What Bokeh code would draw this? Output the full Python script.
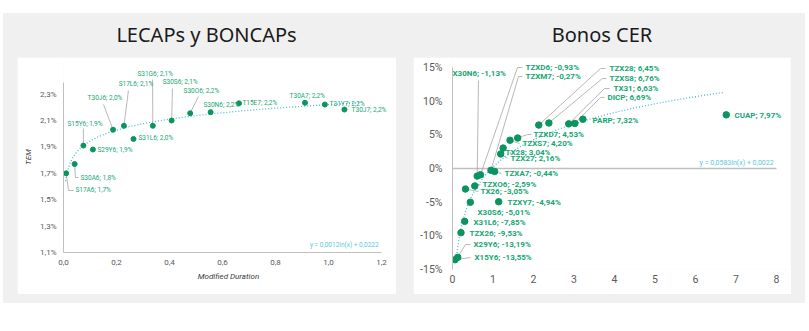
import numpy as np
from bokeh.plotting import figure
from bokeh.models import ColumnDataSource, FixedTicker, Div, Range1d
from bokeh.layouts import column, row
from bokeh.core.properties import value
from bokeh.embed import file_html
from bokeh.resources import INLINE

# ---------------- DATA: LECAPs y BONCAPs ----------------
lecap_names = ["S17A6", "S30A6", "S15Y6", "S29Y6", "T30J6", "S17L6", "S31L6", "S31G6",
               "S30S6", "S30O6", "S30N6", "T15E7", "T30A7", "T31Y7", "T30J7"]
lecap_duration = [0.010, 0.042, 0.075, 0.111, 0.187, 0.228, 0.264, 0.337,
                  0.408, 0.478, 0.555, 0.662, 0.911, 0.986, 1.060]
lecap_tem = [1.70, 1.77, 1.91, 1.88, 2.03, 2.06, 1.96, 2.06,
             2.10, 2.155, 2.163, 2.23, 2.234, 2.221, 2.183]
lecap_tem_text = ["1,7%", "1,8%", "1,9%", "1,9%", "2,0%", "2,1%", "2,0%", "2,1%",
                  "2,1%", "2,2%", "2,2%", "2,2%", "2,2%", "2,2%", "2,2%"]
lecap_x_ticks = [0.0, 0.2, 0.4, 0.6, 0.8, 1.0, 1.2]
lecap_x_tick_labels = ["0,0", "0,2", "0,4", "0,6", "0,8", "1,0", "1,2"]
lecap_y_ticks = [1.1, 1.3, 1.5, 1.7, 1.9, 2.1, 2.3]
lecap_y_tick_labels = ["1,1%", "1,3%", "1,5%", "1,7%", "1,9%", "2,1%", "2,3%"]
lecap_fit_a, lecap_fit_b = 0.0012, 0.0222
lecap_fit_text = "y = 0,0012ln(x) + 0,0222"
lecap_fit_x_span = (0.008, 1.12)

# ---------------- DATA: Bonos CER ----------------
cer_names = ["X15Y6", "X29Y6", "TZX26", "X31L6", "TX26", "X30S6", "TZXO6", "X30N6",
             "TZXD6", "TZXM7", "TZXA7", "TZXY7", "TZX27", "TX28", "TZXS7", "TZXD7",
             "TZX28", "TZXS8", "TX31", "DICP", "PARP", "CUAP"]
cer_duration = [0.06, 0.13, 0.21, 0.30, 0.32, 0.44, 0.55, 0.61,
                0.69, 0.95, 1.04, 1.14, 1.19, 1.25, 1.42, 1.61,
                2.13, 2.38, 2.87, 3.02, 3.22, 6.76]
cer_yield = [-13.55, -13.19, -9.53, -7.85, -3.05, -5.01, -2.59, -1.13,
             -0.93, -0.27, -0.44, -4.94, 2.16, 3.04, 4.20, 4.53,
             6.45, 6.76, 6.63, 6.69, 7.32, 7.97]
cer_x_ticks = [0, 1, 2, 3, 4, 5, 6, 7, 8]
cer_x_tick_labels = ["0", "1", "2", "3", "4", "5", "6", "7", "8"]
cer_y_ticks = [-15, -10, -5, 0, 5, 10, 15]
cer_y_tick_labels = ["-15%", "-10%", "-5%", "0%", "5%", "10%", "15%"]
cer_fit_a, cer_fit_b = 0.0583, 0.0022
cer_fit_text = "y = 0,0583ln(x) + 0,0022"
cer_fit_x_span = (0.089, 6.72)

# ---------------- LAYOUT (label anchors / leader elbows, data units) -------
lecap_label_pos = {
    "S17A6": (0.045, 1.570), "S30A6": (0.064, 1.668), "S15Y6": (0.015, 2.077),
    "S29Y6": (0.128, 1.873), "T30J6": (0.091, 2.267), "S17L6": (0.208, 2.373),
    "S31L6": (0.283, 1.964), "S31G6": (0.279, 2.456), "S30S6": (0.374, 2.388),
    "S30O6": (0.453, 2.320), "S30N6": (0.528, 2.221), "T15E7": (0.675, 2.229),
    "T30A7": (0.853, 2.289), "T31Y7": (1.004, 2.226), "T30J7": (1.087, 2.183),
}
lecap_leaders = {
    "S17A6": [(0.019, 1.570), (0.038, 1.570)],
    "S30A6": [(0.045, 1.668), (0.057, 1.668)],
    "S15Y6": [(0.075, 2.039)],
    "T30J6": [(0.151, 2.221)],
    "S17L6": [(0.245, 2.327)],
    "S31G6": [(0.336, 2.411)],
    "S30S6": [(0.411, 2.342)],
    "S30O6": [(0.509, 2.282)],
}
cer_label_pos = {
    "X15Y6": (0.543, -13.22), "X29Y6": (0.519, -11.29), "TZX26": (0.42, -9.65),
    "X31L6": (0.519, -8.02), "TX26": (0.691, -3.42), "X30S6": (0.617, -6.53),
    "TZXO6": (0.741, -2.38), "X30N6": (0.0, 14.11), "TZXD6": (1.802, 15.0),
    "TZXM7": (1.802, 13.66), "TZXA7": (1.284, -0.74), "TZXY7": (1.358, -5.05),
    "TZX27": (1.432, 1.49), "TX28": (1.309, 2.38), "TZXS7": (1.728, 3.71),
    "TZXD7": (2.0, 5.05), "TZX28": (3.877, 14.85), "TZXS8": (3.877, 13.37),
    "TX31": (3.975, 11.88), "DICP": (3.827, 10.55), "PARP": (3.457, 7.13),
    "CUAP": (6.963, 7.87),
}
cer_leaders = {
    "X15Y6": [(0.444, -13.22)],
    "X29Y6": [(0.321, -11.29), (0.444, -11.29)],
    "TX26": [(0.642, -3.42)],
    "TZXO6": [(0.691, -2.38)],
    "X30N6": [(0.642, 13.07)],
    "TZXD6": [(1.605, 15.0), (1.728, 15.0)],
    "TZXM7": [(1.630, 13.66), (1.728, 13.66)],
    "TZXA7": [(1.21, -0.74)],
    "TZX27": [(1.358, 1.49)],
    "TX28": [(1.259, 2.38)],
    "TZXS7": [(1.654, 3.71)],
    "TZXD7": [(1.852, 5.05), (1.95, 5.05)],
    "TZX28": [(3.654, 14.85), (3.778, 14.85)],
    "TZXS8": [(3.70, 13.37), (3.80, 13.37)],
    "TX31": [(3.753, 11.88), (3.877, 11.88)],
    "DICP": [(3.654, 10.55), (3.753, 10.55)],
}

# ---------------- STYLE ----------------
BG = "#f0f0f0"
DOT = "#0b9460"
LABEL = "#17a673"
LEADER = "#a6a6a6"
TREND = "#3fbfd6"
EQ = "#5bc8dc"
AXIS = "#bfbfbf"
TICK = "#595959"
FONT = "Roboto"


def base_fig(width, height, x_range, y_range, borders):
    l, r, t, b = borders
    p = figure(width=width, height=height, x_range=x_range, y_range=y_range,
               output_backend="svg", toolbar_location=None,
               min_border_left=l, min_border_right=r, min_border_top=t, min_border_bottom=b)
    p.outline_line_color = None
    p.background_fill_color = "white"
    p.border_fill_color = "white"
    p.xgrid.visible = False
    p.ygrid.visible = False
    for ax in (p.xaxis[0], p.yaxis[0]):
        ax.major_tick_line_color = None
        ax.minor_tick_line_color = None
        ax.major_tick_out = 0
        ax.major_tick_in = 0
        ax.axis_line_color = AXIS
        ax.axis_line_width = 1
        ax.major_label_text_color = TICK
        ax.major_label_text_font = FONT
    return p


def leader_lines(names, xs, ys, leaders):
    lx, ly = [], []
    for n, x, y in zip(names, xs, ys):
        if n in leaders:
            pts = [(x, y)] + leaders[n]
            lx.append([pt[0] for pt in pts])
            ly.append([pt[1] for pt in pts])
    return lx, ly


# ---------------- LEFT CHART ----------------
p1 = base_fig(379, 237, Range1d(0, 1.245), Range1d(1.1, 2.547), (46, 3, 4, 42))
p1.xaxis[0].ticker = FixedTicker(ticks=lecap_x_ticks)
p1.xaxis[0].major_label_overrides = dict(zip(lecap_x_ticks, lecap_x_tick_labels))
p1.yaxis[0].ticker = FixedTicker(ticks=lecap_y_ticks)
p1.yaxis[0].major_label_overrides = dict(zip(lecap_y_ticks, lecap_y_tick_labels))
p1.xaxis[0].bounds = (lecap_x_ticks[0], lecap_x_ticks[-1])
p1.yaxis[0].bounds = (lecap_y_ticks[0], 2.388)
for ax in (p1.xaxis[0], p1.yaxis[0]):
    ax.major_label_text_font_size = "8px"
    ax.axis_label_text_font = FONT
    ax.axis_label_text_font_style = "italic"
    ax.axis_label_text_font_size = "8px"
    ax.axis_label_text_color = "#404040"
p1.xaxis[0].major_label_standoff = 7
p1.yaxis[0].major_label_standoff = 7
p1.xaxis[0].axis_label = "Modified Duration"
p1.yaxis[0].axis_label = "TEM"
p1.xaxis[0].axis_label_standoff = 4
p1.yaxis[0].axis_label_standoff = 4

fx1 = np.linspace(lecap_fit_x_span[0], lecap_fit_x_span[1], 200)
p1.line(fx1, 100 * (lecap_fit_a * np.log(fx1) + lecap_fit_b),
        line_color=TREND, line_width=1.3, line_dash="1 2")

lx1, ly1 = leader_lines(lecap_names, lecap_duration, lecap_tem, lecap_leaders)
p1.multi_line(lx1, ly1, line_color=LEADER, line_width=0.8)

src1 = ColumnDataSource(dict(
    x=lecap_duration, y=lecap_tem,
    lx=[lecap_label_pos[n][0] for n in lecap_names],
    ly=[lecap_label_pos[n][1] for n in lecap_names],
    txt=[f"{n}; {t}" for n, t in zip(lecap_names, lecap_tem_text)],
))
p1.scatter("x", "y", source=src1, size=5, fill_color=DOT, line_color=DOT)
p1.text("lx", "ly", text="txt", source=src1, text_align="left", text_baseline="middle",
        text_font=value(FONT), text_font_size="6.5px", text_color=LABEL)
p1.text(x=[1.189], y=[1.16], text=[lecap_fit_text], text_align="right", text_baseline="middle",
        text_font=value(FONT), text_font_size="6.5px", text_color=EQ)

# ---------------- RIGHT CHART ----------------
p2 = base_fig(378, 237, Range1d(0, 8.346), Range1d(-15, 16.19), (39, 1, 2, 25))
p2.xaxis[0].ticker = FixedTicker(ticks=cer_x_ticks)
p2.xaxis[0].major_label_overrides = dict(zip(cer_x_ticks, cer_x_tick_labels))
p2.yaxis[0].ticker = FixedTicker(ticks=cer_y_ticks)
p2.yaxis[0].major_label_overrides = dict(zip(cer_y_ticks, cer_y_tick_labels))
p2.yaxis[0].bounds = (cer_y_ticks[0], cer_y_ticks[-1])
p2.xaxis[0].axis_line_color = None
for ax in (p2.xaxis[0], p2.yaxis[0]):
    ax.major_label_text_font_size = "10.5px"
p2.xaxis[0].major_label_standoff = 5
p2.yaxis[0].major_label_standoff = 10

p2.segment(x0=[cer_x_ticks[0]], y0=[0], x1=[cer_x_ticks[-1]], y1=[0],
           line_color=AXIS, line_width=1.5)

fx2 = np.linspace(cer_fit_x_span[0], cer_fit_x_span[1], 300)
p2.line(fx2, 100 * (cer_fit_a * np.log(fx2) + cer_fit_b),
        line_color=TREND, line_width=1.3, line_dash="1 2")

lx2, ly2 = leader_lines(cer_names, cer_duration, cer_yield, cer_leaders)
p2.multi_line(lx2, ly2, line_color=LEADER, line_width=0.8)

src2 = ColumnDataSource(dict(
    x=cer_duration, y=cer_yield,
    lx=[cer_label_pos[n][0] for n in cer_names],
    ly=[cer_label_pos[n][1] for n in cer_names],
    txt=[f"{n}; {v:.2f}%".replace(".", ",") for n, v in zip(cer_names, cer_yield)],
))
p2.scatter("x", "y", source=src2, size=6.5, fill_color=DOT, line_color=DOT)
p2.text("lx", "ly", text="txt", source=src2, text_align="left", text_baseline="middle",
        text_font=value(FONT), text_font_size="8px", text_font_style="bold", text_color=LABEL)
p2.text(x=[7.93], y=[0.89], text=[cer_fit_text], text_align="right", text_baseline="middle",
        text_font=value(FONT), text_font_size="7px", text_color=EQ)

# ---------------- TITLES + PAGE ----------------
def title_div(txt, width, margin):
    html = (f'<div style="width:{width}px;height:44px;display:flex;align-items:center;'
            f'justify-content:center;font-family:\'Noto Sans\';font-size:20px;color:#1a1a1a;">'
            f'{txt}</div>')
    return Div(text=html, width=width, height=44, margin=margin)

t1 = title_div("LECAPs y BONCAPs", 379, (0, 0, 0, 14))
t2 = title_div("Bonos CER", 378, (0, 14, 0, 17))
p1.margin = (0, 0, 9, 14)
p2.margin = (0, 14, 9, 17)

left_panel = column(t1, p1, spacing=0)
right_panel = column(t2, p2, spacing=0)
root = row(left_panel, right_panel, spacing=0,
           margin=(13, 0, 0, 3), styles={"background-color": BG})

open("out.html", "w").write(file_html(root, INLINE))
